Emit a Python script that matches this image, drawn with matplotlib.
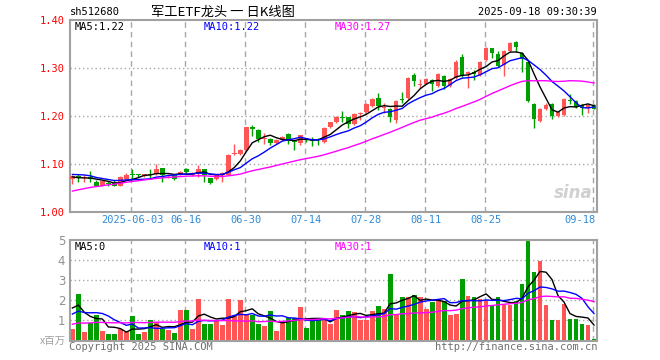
import numpy as np
import pandas as pd
import matplotlib
matplotlib.use("Agg")
import matplotlib.pyplot as plt

# ---- data (price in CNY, volume in millions) ----
opens = [1.069, 1.075, 1.071, 1.073, 1.062, 1.055, 1.061, 1.062, 1.055, 1.068,
         1.078, 1.078, 1.075, 1.079, 1.079, 1.091, 1.076, 1.077, 1.077, 1.090,
         1.077, 1.081, 1.090, 1.070, 1.068, 1.077, 1.077, 1.121, 1.120, 1.129,
         1.177, 1.171, 1.152, 1.151, 1.144, 1.149, 1.162, 1.147, 1.143, 1.151,
         1.151, 1.150, 1.146, 1.176, 1.186, 1.198, 1.197, 1.183, 1.204, 1.207,
         1.221, 1.237, 1.216, 1.214, 1.192, 1.235, 1.236, 1.284, 1.263, 1.267,
         1.274, 1.262, 1.283, 1.262, 1.278, 1.323, 1.287, 1.290, 1.285, 1.315,
         1.340, 1.328, 1.306, 1.335, 1.353, 1.331, 1.312, 1.224, 1.190, 1.215,
         1.224, 1.199, 1.201, 1.232, 1.231, 1.222, 1.216, 1.222]
closes = [1.075, 1.071, 1.073, 1.068, 1.055, 1.064, 1.058, 1.055, 1.073, 1.076,
          1.076, 1.077, 1.079, 1.077, 1.090, 1.077, 1.077, 1.069, 1.084, 1.083,
          1.082, 1.090, 1.077, 1.060, 1.079, 1.081, 1.119, 1.123, 1.128, 1.176,
          1.173, 1.151, 1.154, 1.144, 1.150, 1.155, 1.147, 1.145, 1.159, 1.149,
          1.147, 1.149, 1.174, 1.186, 1.198, 1.196, 1.183, 1.204, 1.206, 1.225,
          1.235, 1.221, 1.218, 1.197, 1.230, 1.233, 1.279, 1.272, 1.266, 1.276,
          1.267, 1.286, 1.262, 1.277, 1.312, 1.283, 1.290, 1.286, 1.312, 1.340,
          1.331, 1.304, 1.335, 1.351, 1.342, 1.318, 1.231, 1.193, 1.215, 1.223,
          1.199, 1.208, 1.235, 1.230, 1.219, 1.217, 1.222, 1.215]
highs = [1.077, 1.078, 1.076, 1.086, 1.066, 1.065, 1.065, 1.066, 1.075, 1.081,
         1.090, 1.080, 1.080, 1.090, 1.100, 1.091, 1.080, 1.078, 1.086, 1.091,
         1.084, 1.098, 1.090, 1.070, 1.080, 1.083, 1.120, 1.142, 1.130, 1.177,
         1.180, 1.172, 1.164, 1.153, 1.152, 1.157, 1.164, 1.150, 1.161, 1.154,
         1.156, 1.153, 1.176, 1.188, 1.200, 1.210, 1.198, 1.206, 1.208, 1.226,
         1.237, 1.247, 1.226, 1.216, 1.232, 1.250, 1.280, 1.288, 1.276, 1.278,
         1.276, 1.288, 1.284, 1.279, 1.315, 1.328, 1.293, 1.296, 1.314, 1.342,
         1.341, 1.335, 1.337, 1.353, 1.356, 1.333, 1.315, 1.226, 1.217, 1.226,
         1.226, 1.210, 1.236, 1.245, 1.232, 1.224, 1.224, 1.224]
lows = [1.058, 1.063, 1.062, 1.063, 1.053, 1.053, 1.054, 1.053, 1.053, 1.066,
        1.067, 1.072, 1.072, 1.068, 1.077, 1.063, 1.070, 1.066, 1.076, 1.080,
        1.074, 1.073, 1.063, 1.058, 1.067, 1.063, 1.076, 1.119, 1.119, 1.128,
        1.157, 1.145, 1.142, 1.139, 1.142, 1.147, 1.142, 1.128, 1.140, 1.145,
        1.138, 1.139, 1.144, 1.175, 1.185, 1.186, 1.174, 1.181, 1.192, 1.206,
        1.219, 1.212, 1.206, 1.188, 1.185, 1.227, 1.235, 1.262, 1.258, 1.265,
        1.251, 1.260, 1.255, 1.260, 1.276, 1.280, 1.257, 1.274, 1.283, 1.313,
        1.321, 1.301, 1.282, 1.333, 1.332, 1.290, 1.229, 1.174, 1.188, 1.212,
        1.193, 1.197, 1.199, 1.224, 1.217, 1.201, 1.206, 1.213]
volumes = [0.58, 2.33, 0.40, 0.87, 1.28, 0.48, 0.33, 0.33, 0.55, 0.40,
           1.23, 0.33, 0.43, 1.03, 0.90, 0.58, 0.53, 0.38, 1.53, 1.53,
           0.58, 2.08, 0.83, 0.83, 1.03, 0.78, 2.08, 1.23, 2.03, 1.30,
           1.25, 0.82, 0.73, 1.47, 0.48, 0.90, 1.10, 1.10, 1.65, 0.63,
           1.00, 1.12, 1.05, 0.82, 1.53, 1.28, 1.48, 1.42, 1.03, 1.03,
           1.48, 1.70, 1.58, 3.33, 1.25, 2.15, 2.15, 2.28, 2.15, 1.58,
           1.90, 2.08, 1.98, 1.28, 1.33, 3.08, 2.23, 2.18, 2.08, 2.03,
           1.70, 2.15, 1.78, 1.78, 1.98, 2.83, 5.00, 3.43, 3.95, 1.78,
           1.00, 1.00, 1.83, 1.08, 1.08, 0.83, 0.78, 0.08]

# days before the visible window, estimated from where the MA lines start
pre_closes = [0.990, 1.000, 0.995, 1.005, 1.010, 1.000, 1.010, 1.015,
              1.020, 1.025, 1.030, 1.030, 1.035, 1.040, 1.045, 1.040,
              1.050, 1.055, 1.060, 1.070,
              1.075, 1.080, 1.085, 1.090, 1.085, 1.080, 1.075, 1.070, 1.065]
pre_volumes = [0.50, 0.60, 0.55, 0.50, 0.60, 0.65, 0.50, 0.55, 0.60, 0.50,
               0.55, 0.60, 0.65, 0.50, 0.55, 0.60, 0.50, 0.55, 0.60, 0.50,
               0.90, 1.10, 1.00, 1.20, 0.90,
               1.60, 2.20, 1.90, 1.80]

date_ticks = [10, 19, 29, 39, 49, 59, 69, 87]
date_labels = ["2025-06-03", "06-16", "06-30", "07-14", "07-28", "08-11", "08-25", "09-18"]
price_ticks = [1.00, 1.10, 1.20, 1.30, 1.40]
vol_ticks = [1, 2, 3, 4, 5]

RED = "#ff5555"
GREEN = "#009f00"
GRID = "#a8a8a8"
MONO = "DejaVu Sans Mono"
W, H = 660, 360


def ma(pre, vals, n):
    s = pd.Series(pre + vals).rolling(n).mean()
    return s.values[len(pre):]


def fx(x):
    return x / W


def fy(y):
    return 1 - y / H


n = len(closes)
x = np.arange(n)
o = np.array(opens)
c = np.array(closes)
up = c >= o
colors = np.where(up, RED, GREEN)

fig = plt.figure(figsize=(6.6, 3.6), dpi=100)
ax_k = fig.add_axes([fx(70), fy(212), 527 / W, 192.5 / H])
ax_v = fig.add_axes([fx(70), fy(340.5), 527 / W, 100.5 / H])

for ax in (ax_k, ax_v):
    ax.set_xlim(-0.4, 87.5)
    for sp in ax.spines.values():
        sp.set_color("#a0a0a0")
        sp.set_linewidth(1.5)
    ax.tick_params(length=0)
    ax.set_xticks([])
    for t in date_ticks:
        ax.axvline(t - 0.25, color=GRID, lw=1, ls=(0, (4, 3)), zorder=0)

# candles
ax_k.set_ylim(1.00, 1.40)
for yv in [1.10, 1.20, 1.30]:
    ax_k.axhline(yv, color=GRID, lw=1, ls=(0, (1, 2)), zorder=0)
ax_k.vlines(x, lows, highs, colors=colors, lw=1, zorder=2)
body = np.maximum(np.abs(c - o), 0.0012)
ax_k.bar(x, body, bottom=np.minimum(o, c), width=0.78, color=colors, zorder=3)

ma5 = ma(pre_closes, closes, 5)
ma10 = ma(pre_closes, closes, 10)
ma30 = ma(pre_closes, closes, 30)
ax_k.plot(x, ma5, color="black", lw=1, zorder=4)
ax_k.plot(x, ma10, color="#0000ff", lw=1, zorder=4)
ax_k.plot(x, ma30, color="#ff00ff", lw=1, zorder=4)
ax_k.set_yticks(price_ticks, [f"{t:.2f}" for t in price_ticks],
                color="red", fontfamily=MONO, fontsize=7.5)
ax_k.text(575 / 1, 0, "")
ax_k.text(0.955, 0.1, "sina", transform=ax_k.transAxes, ha="center", va="center",
          fontsize=12, fontweight="bold", fontstyle="italic", color="#d0d0d0", zorder=1)

# volume
ax_v.set_ylim(0, 5)
for yv in [1, 2, 3, 4]:
    ax_v.axhline(yv, color=GRID, lw=1, ls=(0, (1, 2)), zorder=0)
ax_v.bar(x, volumes, width=0.8, color=colors, zorder=2)
vma5 = ma(pre_volumes, volumes, 5)
vma10 = ma(pre_volumes, volumes, 10)
vma30 = ma(pre_volumes, volumes, 30)
ax_v.plot(x, vma5, color="black", lw=1, zorder=4)
ax_v.plot(x, vma10, color="#0000ff", lw=1, zorder=4)
ax_v.plot(x, vma30, color="#ff00ff", lw=1, zorder=4)
ax_v.set_yticks(vol_ticks, [str(t) for t in vol_ticks], color="#909090", fontsize=8.5)

# legends inside panels
for yy, vals, fmt in [(27, (ma5, ma10, ma30), "{:.2f}"), (247, (vma5, vma10, vma30), "int")]:
    for xx, name, col, v in [(75, "MA5", "black", vals[0]), (204, "MA10", "#0000ff", vals[1]),
                             (335, "MA30", "#ff00ff", vals[2])]:
        txt = str(int(v[-1])) if fmt == "int" else fmt.format(v[-1])
        fig.text(fx(xx), fy(yy), f"{name}:{txt}", color=col, fontfamily=MONO,
                 fontsize=7.5, va="center", ha="left")

# date labels
for t, lab in zip(date_ticks, date_labels):
    xd = ax_k.transData.transform((t, 0))[0] / fig.dpi / 6.6
    ha = "right" if lab == "09-18" else "center"
    if ha == "right":
        xd = fx(596)
    fig.text(xd, fy(220), lab, color="#2e8bd9", fontfamily=MONO, fontsize=7.5,
             ha=ha, va="center")

# header / footer
fig.text(fx(70), fy(12), "sh512680", fontfamily=MONO, fontsize=7.5, va="center")
fig.text(fx(223), fy(12), "军工ETF龙头 一 日K线图",
         fontfamily=["Noto Sans CJK SC", "DejaVu Sans"], fontsize=9.5,
         ha="center", va="center")
fig.text(fx(597), fy(12), "2025-09-18 09:30:39", fontfamily=MONO, fontsize=7.5,
         ha="right", va="center")
fig.text(fx(69), fy(347), "Copyright 2025 SINA.COM", fontfamily=MONO, fontsize=7.5,
         color="#707070", va="center")
fig.text(fx(597), fy(347), "http://finance.sina.com.cn", fontfamily=MONO, fontsize=7.5,
         color="#707070", ha="right", va="center")
fig.text(fx(66), fy(341), "x百万", fontfamily=["Noto Sans CJK SC", "DejaVu Sans"],
         fontsize=7.5, color="#a0a0a0", ha="right", va="center")

fig.savefig("out.png", dpi=100, facecolor="white")
plt.close(fig)
